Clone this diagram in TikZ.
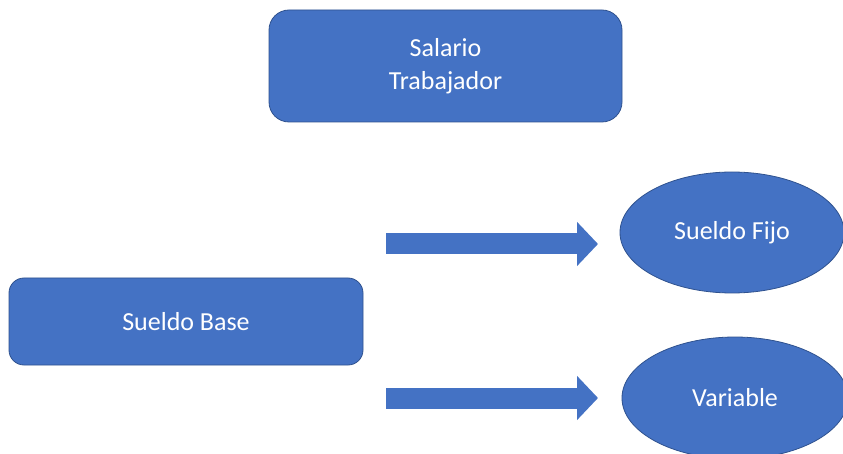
\documentclass[tikz,border=0pt]{standalone}
\usepackage{fontspec}
\setmainfont{Carlito}
\usetikzlibrary{shapes.geometric,arrows.meta}
\definecolor{boxblue}{HTML}{4472C4}
\definecolor{edgeblue}{HTML}{2F528F}
\tikzset{
  rbox/.style={draw=edgeblue, line width=0.8pt, fill=boxblue, text=white, align=center,
    inner sep=0pt, font=\fontsize{26}{33}\selectfont},
  oval/.style={ellipse, draw=edgeblue, line width=0.8pt, fill=boxblue, text=white,
    inner sep=0pt, font=\fontsize{26}{33}\selectfont},
  blockarrow/.style={draw=boxblue, line width=21pt,
    -{Triangle[width=43pt,length=21pt]}}
}
\begin{document}
\begin{tikzpicture}[x=1pt,y=-1pt]
\useasboundingbox (0,0) rectangle (843,454);
\clip (0,0) rectangle (843,454);
\fill[white] (0,0) rectangle (843,454);
\node[rbox, rounded corners=20pt, minimum width=353pt, minimum height=112pt] (salario) at (445.5,66) {Salario\\Trabajador};
\node[rbox, rounded corners=15pt, minimum width=354pt, minimum height=87pt] (base) at (186,321.5) {Sueldo Base};
\node[oval, minimum width=224pt, minimum height=121pt] (fijo) at (732,232.5) {Sueldo Fijo};
\node[oval, minimum width=226pt, minimum height=122pt] (variable) at (735,398) {Variable};
\coordinate (a1s) at (386,244);
\coordinate (a1e) at (598,244);
\coordinate (a2s) at (386,398);
\coordinate (a2e) at (598,398);
\draw[blockarrow] (a1s) -- (a1e);
\draw[blockarrow] (a2s) -- (a2e);
\end{tikzpicture}
\end{document}
